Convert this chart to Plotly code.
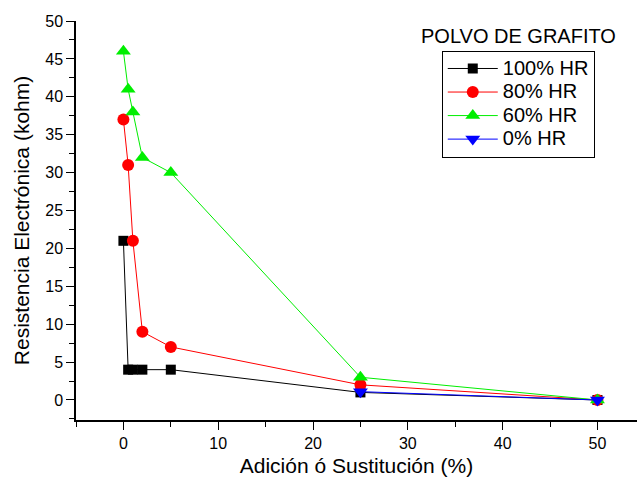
import plotly.graph_objects as go

x_vals = [0, 0.5, 1, 2, 5, 25, 50]
hr100 = [21, 4, 4, 4, 4, 1, 0]
hr80 = [37, 31, 21, 9, 7, 2, 0]
hr60 = [46, 41, 38, 32, 30, 3, 0]
x_hr0 = [25, 50]
hr0 = [1.1, 0]
series_names = ["100% HR", "80% HR", "60% HR", "0% HR"]
x_ticks = [0, 10, 20, 30, 40, 50]
y_ticks = [0, 5, 10, 15, 20, 25, 30, 35, 40, 45, 50]

font = "Liberation Sans, Arial, sans-serif"
LEG = '<span style="font-size:20px">{}</span>'

fig = go.Figure()
fig.add_trace(go.Scatter(x=x_vals, y=hr100, mode="lines+markers", name=LEG.format(series_names[0]),
                         line=dict(color="black", width=1),
                         marker=dict(symbol="square", size=10, color="black")))
fig.add_trace(go.Scatter(x=x_vals, y=hr80, mode="lines+markers", name=LEG.format(series_names[1]),
                         line=dict(color="red", width=1),
                         marker=dict(symbol="circle", size=12, color="red")))
fig.add_trace(go.Scatter(x=x_vals, y=hr60, mode="lines+markers", name=LEG.format(series_names[2]),
                         line=dict(color="#00ee00", width=1),
                         marker=dict(symbol="triangle-up", size=13, color="#00ee00")))
fig.add_trace(go.Scatter(x=x_hr0, y=hr0, mode="lines+markers", name=LEG.format(series_names[3]),
                         line=dict(color="blue", width=1),
                         marker=dict(symbol="triangle-down", size=13, color="blue")))

fig.update_layout(
    width=637, height=477,
    margin=dict(l=76, r=0, t=21, b=57),
    paper_bgcolor="white", plot_bgcolor="white",
    font=dict(family=font, color="black"),
    showlegend=True,
    legend=dict(x=0.652, y=0.9255, xanchor="left", yanchor="top",
                bordercolor="black", borderwidth=1, bgcolor="white",
                font=dict(size=15.8, family=font), tracegroupgap=0, itemwidth=50),
    xaxis=dict(range=[-5, 54.17], showgrid=False, zeroline=False,
               showline=True, linecolor="black", linewidth=1.5,
               ticks="outside", ticklen=8, tickwidth=1, tickcolor="black",
               tickvals=x_ticks,
               minor=dict(ticks="outside", ticklen=5, dtick=5, tick0=0, tickcolor="black"),
               tickfont=dict(size=16),
               title=dict(text="Adición ó Sustitución (%)", font=dict(size=21), standoff=10)),
    yaxis=dict(range=[-2.64, 50], showgrid=False, zeroline=False,
               showline=True, linecolor="black", linewidth=1.5,
               ticks="outside", ticklen=8, tickwidth=1, tickcolor="black",
               tickvals=y_ticks,
               minor=dict(ticks="outside", ticklen=5, dtick=2.5, tick0=0, tickcolor="black"),
               tickfont=dict(size=16),
               title=dict(text="Resistencia Electrónica (kohm)", font=dict(size=21), standoff=10)),
    annotations=[dict(text="POLVO DE GRAFITO", x=0.788, y=0.962, xref="paper", yref="paper",
                      xanchor="center", yanchor="middle", showarrow=False,
                      font=dict(size=20, family=font))]
)
fig.write_html("out.html", config={"displayModeBar": False},
               post_script="document.body.style.margin='0';")
